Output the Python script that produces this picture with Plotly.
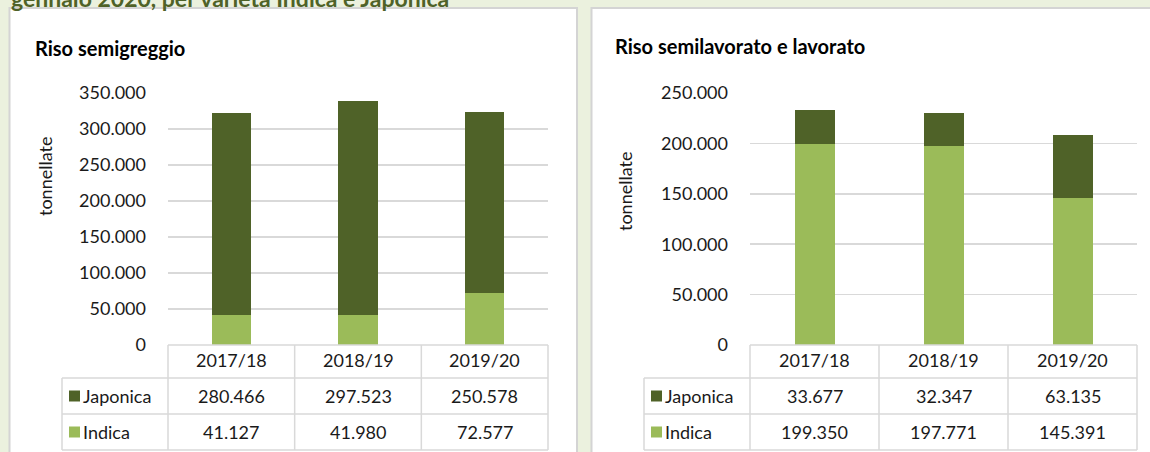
import plotly.graph_objects as go

W, H = 1150, 452

seasons = ["2017/18", "2018/19", "2019/20"]
series_names = ["Japonica", "Indica"]
left_japonica = [280466, 297523, 250578]
left_indica = [41127, 41980, 72577]
right_japonica = [33677, 32347, 63135]
right_indica = [199350, 197771, 145391]

top_title = "gennaio 2020, per varietà Indica e Japonica"
left_title = "Riso semigreggio"
right_title = "Riso semilavorato e lavorato"
y_title = "tonnellate"

C_JAP = "#4F6228"
C_IND = "#9BBB59"
GRID = "#D9D9D9"
BG = "#EBF1DE"
FONT = "Lato"
TXT = "#1a1a1a"


def fmt(v):
    return f"{v:,}".replace(",", ".")


def px(x):
    return x / W


def py(y):
    return 1 - y / H


fig = go.Figure()

panels = [
    dict(xa="x", ya="y", jap=left_japonica, ind=left_indica, rng=350000,
         dom=(168, 548), legx=62, title=left_title, tx=33, ty=48, ytx=45, yty=177),
    dict(xa="x2", ya="y2", jap=right_japonica, ind=right_indica, rng=250000,
         dom=(750, 1137), legx=644, title=right_title, tx=613, ty=46, ytx=625, yty=192),
]

shapes = []
annotations = []

# panel backgrounds
shapes.append(dict(type="rect", xref="paper", yref="paper", x0=px(9.5), x1=px(577), y0=py(470), y1=py(8),
                   fillcolor="white", line=dict(color="#D4D4D4", width=2), layer="below"))
shapes.append(dict(type="rect", xref="paper", yref="paper", x0=px(591.5), x1=px(1170), y0=py(470), y1=py(8),
                   fillcolor="white", line=dict(color="#D4D4D4", width=2), layer="below"))

annotations.append(dict(text=f"<b>{top_title}</b>", xref="paper", yref="paper", x=px(9), y=py(-2),
                        xanchor="left", yanchor="middle", showarrow=False,
                        font=dict(family=FONT, size=23, color="#4F6228")))

row_top, row_head, row_jap, row_ind = 345, 378, 414, 450

for i, p in enumerate(panels):
    fig.add_trace(go.Bar(x=seasons, y=p["ind"], name=series_names[1], marker=dict(color=C_IND, line=dict(width=0)),
                         width=0.31, xaxis=p["xa"], yaxis=p["ya"], showlegend=False, hoverinfo="skip"))
    fig.add_trace(go.Bar(x=seasons, y=p["jap"], name=series_names[0], marker=dict(color=C_JAP, line=dict(width=0)),
                         width=0.31, xaxis=p["xa"], yaxis=p["ya"], showlegend=False, hoverinfo="skip"))

    x0, x1 = p["dom"]
    colw = (x1 - x0) / len(seasons)
    lx = p["legx"]
    # table lines
    shapes.append(dict(type="line", xref="paper", yref="paper", x0=px(x0), x1=px(x1), y0=py(row_top), y1=py(row_top),
                       line=dict(color=GRID, width=1.5)))
    for yy in (row_head, row_jap, row_ind):
        shapes.append(dict(type="line", xref="paper", yref="paper", x0=px(lx), x1=px(x1), y0=py(yy), y1=py(yy),
                           line=dict(color=GRID, width=1.5)))
    shapes.append(dict(type="line", xref="paper", yref="paper", x0=px(lx), x1=px(lx), y0=py(row_head), y1=py(row_ind),
                       line=dict(color=GRID, width=1.5)))
    for k in range(len(seasons) + 1):
        xx = x0 + k * colw
        shapes.append(dict(type="line", xref="paper", yref="paper", x0=px(xx), x1=px(xx), y0=py(row_top), y1=py(row_ind),
                           line=dict(color=GRID, width=1.5)))
    # table text
    for k, s in enumerate(seasons):
        cx = x0 + (k + 0.5) * colw
        annotations.append(dict(text=s, xref="paper", yref="paper", x=px(cx), y=py(360), showarrow=False,
                                xanchor="center", yanchor="middle", font=dict(family=FONT, size=18, color=TXT)))
        annotations.append(dict(text=fmt(p["jap"][k]), xref="paper", yref="paper", x=px(cx), y=py(396), showarrow=False,
                                xanchor="center", yanchor="middle", font=dict(family=FONT, size=18, color=TXT)))
        annotations.append(dict(text=fmt(p["ind"][k]), xref="paper", yref="paper", x=px(cx), y=py(432), showarrow=False,
                                xanchor="center", yanchor="middle", font=dict(family=FONT, size=18, color=TXT)))
    # legend keys
    for name, col, yc in ((series_names[0], C_JAP, 396), (series_names[1], C_IND, 432)):
        shapes.append(dict(type="rect", xref="paper", yref="paper", x0=px(lx + 7), x1=px(lx + 18),
                           y0=py(yc + 5.5), y1=py(yc - 5.5), fillcolor=col, line=dict(width=0)))
        annotations.append(dict(text=name, xref="paper", yref="paper", x=px(lx + 19), y=py(yc), showarrow=False,
                                xanchor="left", yanchor="middle", font=dict(family=FONT, size=18, color=TXT)))
    # titles
    annotations.append(dict(text=f"<b>{p['title']}</b>", xref="paper", yref="paper", x=px(p["tx"]), y=py(p["ty"]),
                            xanchor="left", yanchor="middle", showarrow=False,
                            font=dict(family=FONT, size=20, color="#000000")))
    annotations.append(dict(text=y_title, xref="paper", yref="paper", x=px(p["ytx"]), y=py(p["yty"]),
                            xanchor="center", yanchor="middle", textangle=-90, showarrow=False,
                            font=dict(family=FONT, size=18, color=TXT)))

axis_common_y = dict(showgrid=True, gridcolor=GRID, gridwidth=1.5, zeroline=False, showline=False,
                     automargin=False,
                     tickformat=",d", ticklabelstandoff=21, tickfont=dict(family=FONT, size=18, color=TXT),
                     domain=[py(345), py(93)], fixedrange=True)
axis_common_x = dict(type="category", showticklabels=False, showgrid=False, zeroline=False, showline=False,
                     automargin=False, fixedrange=True)

fig.update_layout(
    width=W, height=H,
    margin=dict(l=0, r=0, t=0, b=0, autoexpand=False),
    paper_bgcolor=BG, plot_bgcolor="rgba(0,0,0,0)",
    separators=",.",
    barmode="stack",
    showlegend=False,
    xaxis=dict(axis_common_x, domain=[px(168), px(548)], anchor="y"),
    yaxis=dict(axis_common_y, range=[0, 350000], dtick=50000, anchor="x"),
    xaxis2=dict(axis_common_x, domain=[px(750), px(1137)], anchor="y2"),
    yaxis2=dict(axis_common_y, range=[0, 250000], dtick=50000, anchor="x2"),
    shapes=shapes,
    annotations=annotations,
)

post_js = (
    "var gd=document.getElementById('{plot_id}');"
    "gd.style.position='fixed';gd.style.top='0px';gd.style.left='0px';"
    "document.documentElement.style.margin='0';document.documentElement.style.padding='0';"
    "document.documentElement.style.overflow='hidden';"
    "document.body.style.margin='0';document.body.style.padding='0';"
    "document.body.style.overflow='hidden';document.body.style.height='452px';"
)

fig.write_html(
    "out.html",
    config={"displayModeBar": False, "staticPlot": True},
    post_script=post_js,
)
